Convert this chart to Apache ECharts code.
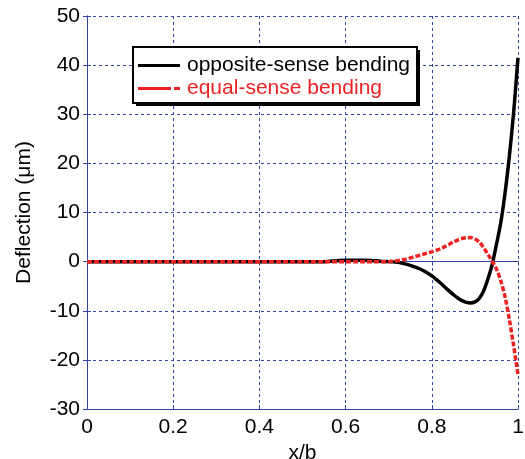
<!DOCTYPE html>
<html><head><meta charset="utf-8">
<script src="https://cdn.jsdelivr.net/npm/echarts@6/dist/echarts.min.js"></script>
<style>html,body{margin:0;padding:0;background:#fff}#c{width:525px;height:459px}</style>
</head><body><div id="c"></div>
<script>
const xValues = [0,0.1,0.2,0.3,0.4,0.5,0.55,0.58,0.6,0.62,0.64,0.66,0.68,
  0.70,0.71,0.72,0.73,0.74,0.75,0.76,0.77,0.78,0.79,0.80,0.81,0.82,0.83,0.84,0.85,
  0.86,0.87,0.88,0.89,0.90,0.91,0.92,0.93,0.94,0.95,0.96,0.97,0.98,0.99,1.00];
const oppositeSense = [0,0,0,0,0,0,0,0.2,0.3,0.3,0.3,0.25,0.1,
  0,-0.05,-0.15,-0.3,-0.5,-0.75,-1.05,-1.4,-1.8,-2.3,-2.9,-3.6,-4.35,-5.15,-5.95,-6.7,
  -7.4,-7.95,-8.3,-8.4,-8.2,-7.5,-6.0,-3.6,-0.6,3.5,7.9,14.0,21.5,30.5,41.5];
const equalSense = [0,0,0,0,0,0,0,0,0,0,0,0,0,
  0,0.1,0.2,0.35,0.5,0.75,1.0,1.25,1.5,1.75,2.0,2.3,2.6,3.05,3.5,4.0,
  4.4,4.7,4.85,4.9,4.6,4.0,2.9,1.5,0.1,-1.5,-3.9,-7.2,-11.8,-17.2,-23];
const xTicks = {min:0,max:1,interval:0.2};
const yTicks = {min:-30,max:50,interval:10};

const blue = '#3344a6';
const red = '#ee2222';
const font = 'Liberation Sans, Arial, sans-serif';
const fs = 21;
const chart = echarts.init(document.getElementById('c'));
const pair = a => xValues.map((x,i)=>[x,a[i]]);
const gridLine = {show:true,lineStyle:{color:blue,type:[3,3],width:1}};
const solidIcon = 'path://M0,0h42v3h-42z';
const dashIcon = 'path://M0,0h33v3h-33z M36,0h6v3h-6z';
chart.setOption({
  animation:false,
  grid:{left:87,right:7,top:16,bottom:50,containLabel:false,outerBoundsMode:'none'},
  graphic:[
    {type:'rect',shape:{x:136,y:50,width:284,height:56},style:{fill:'#000'},z:90},
    {type:'rect',shape:{x:133,y:47,width:284,height:56},style:{fill:'#fff',stroke:'#000',lineWidth:2},z:91}
  ],
  legend:{
    orient:'vertical', left:134, top:53, itemWidth:42, itemHeight:3, itemGap:2,
    padding:[2,4,2,4], z:100,
    textStyle:{fontFamily:font,fontSize:fs,padding:[0,0,0,2]},
    data:[{name:'opposite-sense bending',icon:solidIcon,textStyle:{color:'#000'}},
          {name:'equal-sense bending',icon:dashIcon,textStyle:{color:red}}]
  },
  xAxis:[{
    type:'value', min:xTicks.min, max:xTicks.max, interval:xTicks.interval,
    name:'x/b', nameLocation:'middle', nameGap:33,
    nameTextStyle:{fontFamily:font,fontSize:fs,color:'#000'},
    axisLine:{show:true,onZero:false,lineStyle:{color:blue,width:1}},
    axisTick:{show:true,inside:true,length:4,lineStyle:{color:blue}},
    axisLabel:{fontFamily:font,fontSize:fs,color:'#000',margin:8},
    splitLine:gridLine
  },{
    type:'value', position:'top', min:xTicks.min, max:xTicks.max, interval:xTicks.interval,
    axisLine:{show:true,lineStyle:{color:blue,width:1}},
    axisTick:{show:true,inside:true,length:4,lineStyle:{color:blue}},
    axisLabel:{show:false}, splitLine:{show:false}
  }],
  yAxis:[{
    type:'value', min:yTicks.min, max:yTicks.max, interval:yTicks.interval,
    name:'Deflection (\u03bcm)', nameLocation:'middle', nameGap:52,
    nameTextStyle:{fontFamily:font,fontSize:fs,color:'#000'},
    axisLine:{show:true,onZero:false,lineStyle:{color:blue,width:1}},
    axisTick:{show:true,inside:true,length:4,lineStyle:{color:blue}},
    axisLabel:{fontFamily:font,fontSize:fs,color:'#000',margin:7},
    splitLine:gridLine
  },{
    type:'value', position:'right', min:yTicks.min, max:yTicks.max, interval:yTicks.interval,
    axisLine:{show:true,lineStyle:{color:blue,width:1}},
    axisTick:{show:true,inside:true,length:4,lineStyle:{color:blue}},
    axisLabel:{show:false}, splitLine:{show:false}
  }],
  series:[
    {name:'opposite-sense bending',type:'line',data:pair(oppositeSense),smooth:0.3,symbol:'none',z:3,
     lineStyle:{color:'#000',width:3.5,join:'round'},itemStyle:{color:'#000'}},
    {name:'equal-sense bending',type:'line',data:pair(equalSense),smooth:0.3,symbol:'none',z:4,
     lineStyle:{color:red,width:3.5,type:[5,2],join:'round'},itemStyle:{color:red}}
  ]
});
</script></body></html>
